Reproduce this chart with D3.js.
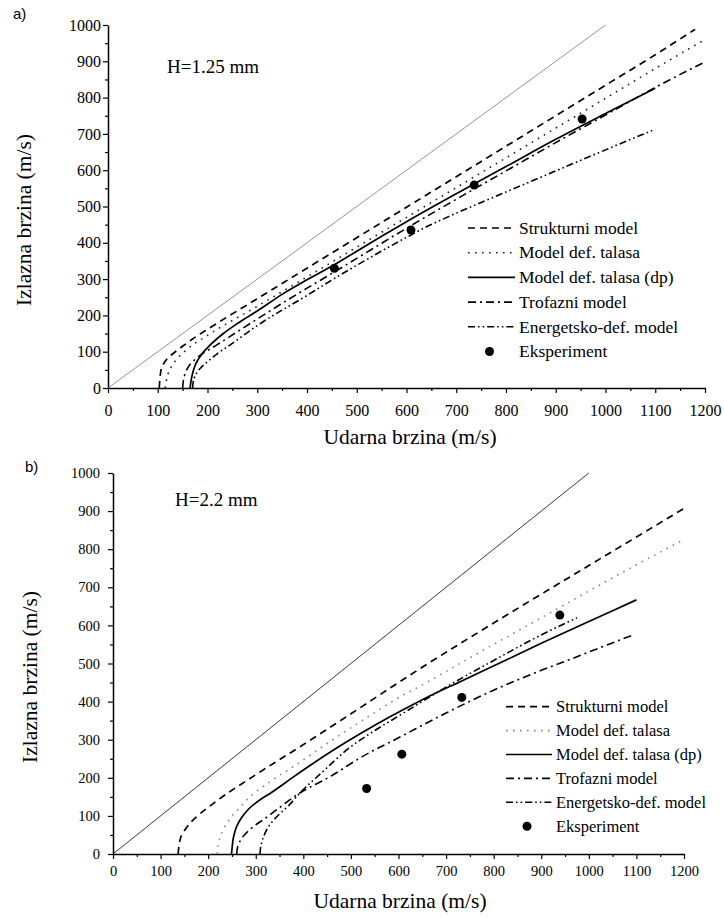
<!DOCTYPE html>
<html>
<head>
<meta charset="utf-8">
<script src="https://cdn.jsdelivr.net/npm/d3@7"></script>
<style>
  body { margin: 0; background: #fff; }
  svg { display: block; }
  svg text { font-family: "Liberation Serif", "Times New Roman", serif; }
  svg text.tag { font-family: "Liberation Sans", Arial, sans-serif; }
</style>
</head>
<body>
<script>
// ---- podaci (ocitani sa slike) ----
const xTickValues = [0, 100, 200, 300, 400, 500, 600, 700, 800, 900, 1000, 1100, 1200];
const yTickValues = [0, 100, 200, 300, 400, 500, 600, 700, 800, 900, 1000];
const legendLabels = ["Strukturni model", "Model def. talasa", "Model def. talasa (dp)",
                      "Trofazni model", "Energetsko-def. model", "Eksperiment"];

const diagonal = [[0, 0], [1000, 1000]];

// a) H=1.25 mm
const strukturniA = [[103,0],[104,20],[106,45],[111,65],[120,82],[131,95],[150,115],[170,135],[198,160],
  [300,246],[400,330],[500,414],[600,498],[700,582],[800,666],[900,750],[1000,834],[1100,918],[1180,988]];
const talasaA = [[115,0],[117,18],[121,40],[128,60],[140,82],[160,108],[200,145],[300,225],[400,306],
  [500,388],[600,470],[700,552],[800,634],[900,716],[1000,798],[1100,880],[1200,960]];
const talasaDpA = [[165,0],[167,20],[170,40],[175,62],[181,78],[190,96],[205,118],[230,148],[265,182],
  [300,212],[350,258],[400,298],[453,338],[500,377],[550,418],[600,458],[700,535],[800,610],[900,685],
  [1000,756],[1100,826]];
const trofazniA = [[150,0],[151,15],[154,35],[160,55],[170,72],[185,90],[200,103],[218,118],[260,155],
  [300,190],[400,275],[453,318],[500,357],[600,440],[700,520],[800,598],[900,676],[1000,752],[1100,828],[1195,895]];
const energetskoA = [[170,0],[171,15],[174,30],[180,45],[188,58],[198,70],[220,95],[245,118],[300,172],
  [400,255],[453,300],[500,338],[600,415],[640,444],[681,470],[800,540],[900,598],[1000,656],[1100,713]];
const eksperimentA = [[455,330],[609,435],[736,559],[953,741]];

// b) H=2.2 mm
const strukturniB = [[137,0],[138,15],[141,37],[147,55],[155,70],[165,85],[176,98],[211,133],[300,208],
  [400,287],[500,368],[600,450],[652,492],[750,568],[880,667],[1000,757],[1100,832],[1200,907]];
const talasaB = [[219,0],[220,15],[222,30],[226,48],[232,65],[240,82],[250,100],[265,120],[281,142],
  [330,190],[386,235],[450,290],[526,352],[600,410],[659,450],[750,515],[850,585],[950,655],[1050,725],[1198,824]];
const talasaDpB = [[249,0],[250,12],[252,35],[256,58],[262,78],[270,95],[285,118],[310,143],[330,159],
  [380,203],[421,238],[470,278],[523,318],[582,360],[650,405],[734,455],[824,508],[900,553],[1000,610],[1100,667]];
const trofazniB = [[260,0],[261,12],[264,25],[270,40],[280,55],[295,72],[316,90],[350,122],[386,155],
  [456,203],[523,255],[600,305],[700,370],[800,430],[900,482],[957,509],[1000,530],[1093,575]];
const energetskoB = [[309,0],[310,15],[313,32],[318,50],[325,68],[335,85],[350,105],[370,128],[389,155],
  [440,215],[491,273],[545,320],[600,362],[700,438],[800,508],[900,575],[975,620]];
const eksperimentB = [[533,172],[607,262],[733,411],[939,627]];

// ---- stilovi linija ----
const lineStyles = [
  { dash: "7,5", w: 1.7 },                 // Strukturni model
  { dash: "1.6,5.4", w: 1.6 },             // Model def. talasa
  { dash: null, w: 1.7 },                  // Model def. talasa (dp)
  { dash: "8,4,2,4", w: 1.6 },             // Trofazni model
  { dash: "7,3,1.6,3,1.6,3", w: 1.6 }      // Energetsko-def. model
];

var svg = d3.select("body").append("svg")
    .attr("width", 724)
    .attr("height", 918);

function crtajPanel(p) {
    var x = d3.scaleLinear().domain([0, 1200]).range([p.left, p.right]);
    var y = d3.scaleLinear().domain([0, 1000]).range([p.bottom, p.top]);
    var g = svg.append("g");
    var fmt = d3.format("d");

    // ose - glavne podjele
    var xAxis = g.append("g")
        .attr("transform", "translate(0," + p.bottom + ")")
        .call(d3.axisBottom(x).tickValues(xTickValues).tickFormat(fmt)
            .tickSize(5).tickSizeOuter(0).tickPadding(p.tickPadX));
    var yAxis = g.append("g")
        .attr("transform", "translate(" + p.left + ",0)")
        .call(d3.axisLeft(y).tickValues(yTickValues).tickFormat(fmt)
            .tickSize(5).tickSizeOuter(0).tickPadding(p.tickPadY));
    // sporedne podjele
    g.append("g")
        .attr("transform", "translate(0," + p.bottom + ")")
        .call(d3.axisBottom(x).tickValues(xTickValues.slice(0, -1).map(function(v) { return v + 50; }))
            .tickSize(3).tickSizeOuter(0).tickFormat(""))
        .select(".domain").remove();
    g.append("g")
        .attr("transform", "translate(" + p.left + ",0)")
        .call(d3.axisLeft(y).tickValues(yTickValues.slice(0, -1).map(function(v) { return v + 50; }))
            .tickSize(3).tickSizeOuter(0).tickFormat(""))
        .select(".domain").remove();

    g.selectAll(".domain").attr("stroke-width", 1.5);
    g.selectAll(".tick line").attr("stroke-width", 1.2);
    [xAxis, yAxis].forEach(function(a) {
        a.attr("font-family", null);
        a.selectAll("text")
            .attr("font-size", p.tickFont)
            .attr("fill", "#000");
    });

    var line = d3.line()
        .x(function(d) { return x(d[0]); })
        .y(function(d) { return y(d[1]); })
        .curve(d3.curveMonotoneX);

    // dijagonala v_izl = v_ud
    g.append("path")
        .attr("d", line(diagonal))
        .attr("fill", "none")
        .attr("stroke", p.diagColor)
        .attr("stroke-width", p.diagW);

    // modeli
    p.series.forEach(function(s, i) {
        g.append("path")
            .attr("d", line(s))
            .attr("fill", "none")
            .attr("stroke", i === 1 ? p.dotColor : "#000")
            .attr("stroke-width", lineStyles[i].w)
            .attr("stroke-dasharray", lineStyles[i].dash);
    });

    // eksperiment
    g.selectAll("circle.exp")
        .data(p.exp)
        .enter().append("circle")
        .attr("class", "exp")
        .attr("cx", function(d) { return x(d[0]); })
        .attr("cy", function(d) { return y(d[1]); })
        .attr("r", 4.5)
        .attr("fill", "#000");

    // legenda
    var leg = g.append("g");
    legendLabels.forEach(function(lbl, i) {
        var ly = p.legY + i * p.legDy;
        if (i < 5) {
            leg.append("line")
                .attr("x1", p.legX).attr("x2", p.legX + p.legW)
                .attr("y1", ly).attr("y2", ly)
                .attr("stroke", i === 1 ? p.dotColor : "#000")
                .attr("stroke-width", lineStyles[i].w)
                .attr("stroke-dasharray", lineStyles[i].dash);
        } else {
            leg.append("circle")
                .attr("cx", p.legX + p.legW / 2 - 2).attr("cy", ly)
                .attr("r", 4.5).attr("fill", "#000");
        }
        leg.append("text")
            .attr("x", p.legX + p.legW + 4)
            .attr("y", ly)
            .attr("dy", "0.33em")
            .attr("font-size", p.legFont)
            .text(lbl);
    });

    // natpisi
    g.append("text")
        .attr("x", p.noteX).attr("y", p.noteY)
        .attr("font-size", 19)
        .text(p.note);
    g.append("text")
        .attr("class", "tag")
        .attr("x", p.tagX).attr("y", p.tagY)
        .attr("font-size", 15)
        .text(p.tag);
    g.append("text")
        .attr("x", p.xTitleX).attr("y", p.xTitleY)
        .attr("text-anchor", "middle")
        .attr("font-size", 21.5)
        .text("Udarna brzina (m/s)");
    g.append("text")
        .attr("transform", "translate(" + p.yTitleX + "," + p.yTitleY + ") rotate(-90)")
        .attr("text-anchor", "middle")
        .attr("font-size", 21.5)
        .text("Izlazna brzina (m/s)");
}

crtajPanel({
    left: 108, right: 705, bottom: 388, top: 25,
    series: [strukturniA, talasaA, talasaDpA, trofazniA, energetskoA],
    exp: eksperimentA,
    diagColor: "#666", diagW: 0.7, dotColor: "#222",
    tickFont: 16, tickPadX: 11.5, tickPadY: 2,
    legX: 468, legW: 47, legY: 228, legDy: 24.7, legFont: 17.5,
    note: "H=1.25 mm", noteX: 167, noteY: 73,
    tag: "a)", tagX: 13, tagY: 19,
    xTitleX: 410, xTitleY: 444, yTitleX: 31, yTitleY: 220
});

crtajPanel({
    left: 113, right: 684, bottom: 854, top: 473,
    series: [strukturniB, talasaB, talasaDpB, trofazniB, energetskoB],
    exp: eksperimentB,
    diagColor: "#222", diagW: 0.9, dotColor: "#888",
    tickFont: 14.5, tickPadX: 6.7, tickPadY: 8,
    legX: 506, legW: 46, legY: 706.7, legDy: 23.9, legFont: 16.5,
    note: "H=2.2 mm", noteX: 175, noteY: 506,
    tag: "b)", tagX: 25, tagY: 472,
    xTitleX: 400, xTitleY: 908, yTitleX: 37, yTitleY: 677
});
</script>
</body>
</html>
